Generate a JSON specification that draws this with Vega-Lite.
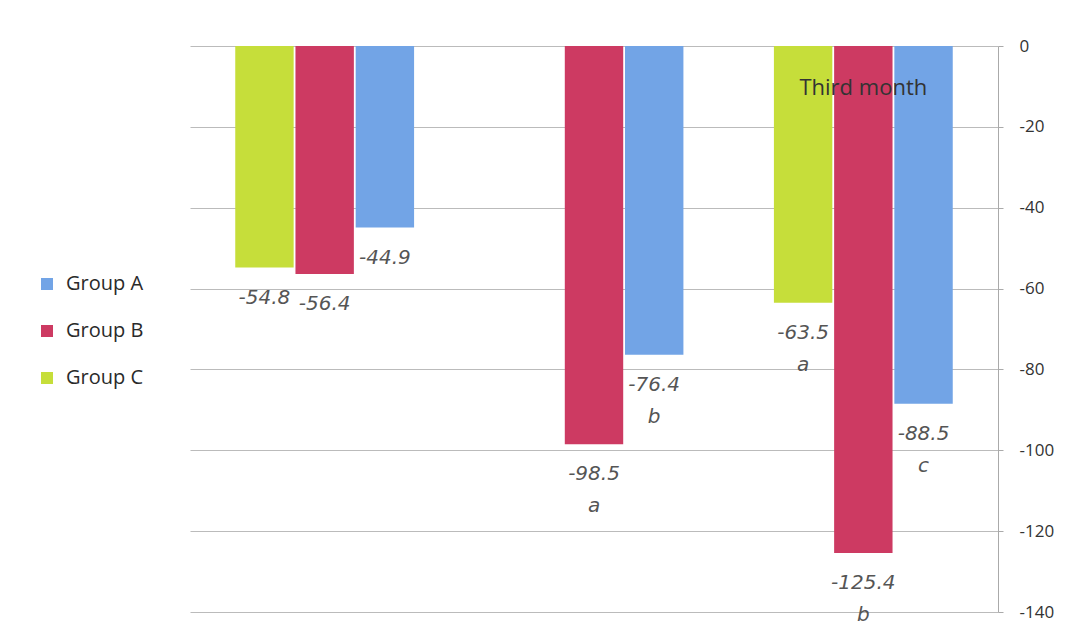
{
  "$schema": "https://vega.github.io/schema/vega-lite/v6.json",
  "width": 808,
  "height": 566,
  "autosize": {"type": "none"},
  "padding": {"left": 190, "top": 46, "right": 89, "bottom": 16},
  "background": "white",
  "config": {
    "view": {"stroke": null},
    "font": "Open Sans"
  },
  "datasets": {
    "bars": [
      {"month": "First month", "group": "Group C", "value": -54.8, "label": "-54.8", "sig": ""},
      {"month": "First month", "group": "Group B", "value": -56.4, "label": "-56.4", "sig": ""},
      {"month": "First month", "group": "Group A", "value": -44.9, "label": "-44.9", "sig": ""},
      {"month": "Second month", "group": "Group B", "value": -98.5, "label": "-98.5", "sig": "a"},
      {"month": "Second month", "group": "Group A", "value": -76.4, "label": "-76.4", "sig": "b"},
      {"month": "Third month", "group": "Group C", "value": -63.5, "label": "-63.5", "sig": "a"},
      {"month": "Third month", "group": "Group B", "value": -125.4, "label": "-125.4", "sig": "b"},
      {"month": "Third month", "group": "Group A", "value": -88.5, "label": "-88.5", "sig": "c"}
    ],
    "note": [
      {"month": "Third month", "text": "Third month", "value": 0}
    ]
  },
  "encoding": {
    "x": {
      "field": "month",
      "type": "nominal",
      "sort": ["First month", "Second month", "Third month"],
      "scale": {"paddingInner": 0.336, "paddingOuter": 0.168},
      "axis": null
    },
    "y": {
      "field": "value",
      "type": "quantitative",
      "scale": {"domain": [-140, 0], "nice": false, "zero": true},
      "axis": {
        "orient": "right",
        "values": [0, -20, -40, -60, -80, -100, -120, -140],
        "title": null,
        "labelFontSize": 17,
        "labelColor": "#333333",
        "labelPadding": 16,
        "labelExpr": "replace(datum.label, '\u2212', '-')",
        "tickSize": 5,
        "tickColor": "#aaaaaa",
        "domainColor": "#aaaaaa",
        "gridColor": "#bbbbbb",
        "grid": true,
        "labelFont": "Open Sans"
      }
    }
  },
  "layer": [
    {
      "data": {"name": "bars"},
      "mark": {"type": "bar"},
      "encoding": {
        "xOffset": {
          "field": "group",
          "type": "nominal",
          "sort": ["Group C", "Group B", "Group A"],
          "scale": {"domain": ["Group C", "Group B", "Group A"], "paddingInner": 0.03}
        },
        "color": {
          "field": "group",
          "type": "nominal",
          "scale": {
            "domain": ["Group A", "Group B", "Group C"],
            "range": ["#72a4e6", "#cd3a62", "#c6de3a"]
          },
          "legend": {
            "title": null,
            "orient": "none",
            "legendX": -153,
            "legendY": 228,
            "padding": 0,
            "symbolType": "square",
            "symbolSize": 144,
            "symbolStrokeWidth": 0,
            "labelFontSize": 20,
            "labelColor": "#2a2a2a",
            "labelOffset": 9,
            "rowPadding": 27,
            "labelFont": "Open Sans"
          }
        }
      }
    },
    {
      "data": {"name": "bars"},
      "mark": {"type": "text", "baseline": "middle", "align": "center", "dy": 30, "fontSize": 20, "font": "DejaVu Sans", "fontStyle": "italic", "color": "#555555"},
      "encoding": {
        "xOffset": {
          "field": "group",
          "type": "nominal",
          "sort": ["Group C", "Group B", "Group A"],
          "scale": {"domain": ["Group C", "Group B", "Group A"], "paddingInner": 0.03}
        },
        "text": {"field": "label"}
      }
    },
    {
      "data": {"name": "bars"},
      "mark": {"type": "text", "baseline": "middle", "align": "center", "dy": 62, "fontSize": 20, "font": "DejaVu Sans", "fontStyle": "italic", "color": "#555555"},
      "encoding": {
        "xOffset": {
          "field": "group",
          "type": "nominal",
          "sort": ["Group C", "Group B", "Group A"],
          "scale": {"domain": ["Group C", "Group B", "Group A"], "paddingInner": 0.03}
        },
        "text": {"field": "sig"}
      }
    },
    {
      "data": {"name": "note"},
      "mark": {"type": "text", "baseline": "middle", "align": "center", "dy": 42, "fontSize": 22, "font": "Open Sans", "color": "#333333"},
      "encoding": {
        "text": {"field": "text"}
      }
    }
  ]
}
